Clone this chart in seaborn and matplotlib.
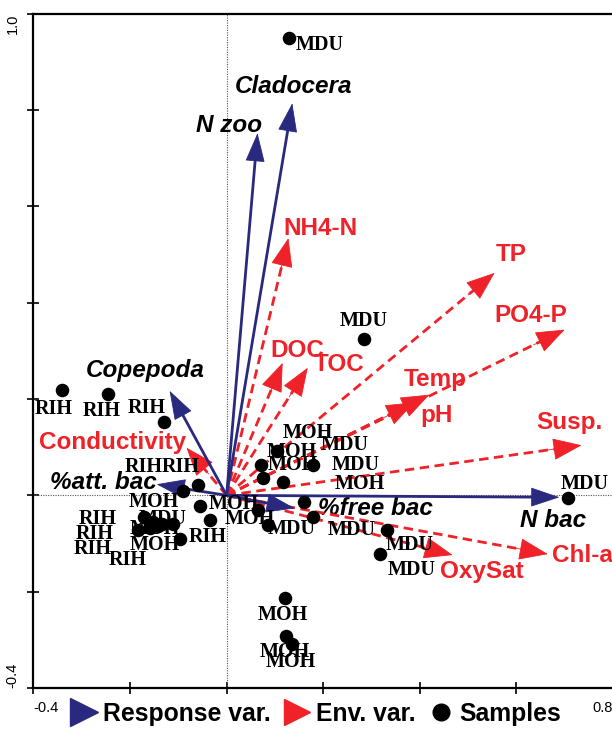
import numpy as np
import pandas as pd
import matplotlib
matplotlib.use("Agg")
import matplotlib.pyplot as plt
import seaborn as sns
from matplotlib.lines import Line2D

# ---------------- data ----------------
resp_names = ["Cladocera", "N zoo", "Copepoda", "%att. bac", "%free bac", "N bac"]
resp_x = [0.136, 0.064, -0.118, -0.145, 0.141, 0.689]
resp_y = [0.814, 0.752, 0.217, 0.023, -0.027, -0.004]
resp_label_x = [0.139, 0.006, -0.168, -0.255, 0.308, 0.675]
resp_label_y = [0.849, 0.768, 0.259, 0.027, -0.027, -0.052]

env_names = ["NH4-N", "TP", "PO4-P", "DOC", "TOC", "Temp", "pH", "Susp.",
             "Conductivity", "OxySat", "Chl-a"]
env_x = [0.128, 0.555, 0.700, 0.116, 0.168, 0.420, 0.389, 0.735, -0.083, 0.468, 0.665]
env_y = [0.534, 0.462, 0.344, 0.275, 0.265, 0.209, 0.193, 0.104, 0.099, -0.124, -0.122]
env_label_x = [0.195, 0.590, 0.629, 0.147, 0.234, 0.431, 0.435, 0.710, -0.236, 0.528, 0.737]
env_label_y = [0.553, 0.501, 0.373, 0.300, 0.271, 0.240, 0.166, 0.151, 0.110, -0.159, -0.124]

sample_names = ["MDU", "MDU", "RIH", "RIH", "RIH", "RIH", "RIH", "MOH",
                "MOH", "MOH", "MDU",
                "RIH", "RIH", "MDU", "MOH", "MOH", "RIH", "RIH", "RIH",
                "MOH", "MOH", "MDU", "MOH", "MDU", "MOH", "MDU",
                "MDU", "MDU", "MDU",
                "MOH", "MOH", "MOH"]
sample_x = [0.130, 0.284, -0.340, -0.246, -0.130, -0.091, -0.060, -0.056,
            -0.035, 0.064, 0.085,
            -0.170, -0.184, -0.153, -0.133, -0.112, -0.097, -0.143, -0.159,
            0.104, 0.072, 0.178, 0.075, 0.116, 0.161, 0.178,
            0.333, 0.317, 0.706,
            0.120, 0.122, 0.135]
sample_y = [0.950, 0.325, 0.219, 0.211, 0.153, 0.010, 0.021, -0.023,
            -0.052, -0.031, -0.062,
            -0.046, -0.072, -0.056, -0.060, -0.060, -0.091, -0.064, -0.068,
            0.093, 0.064, 0.064, 0.037, 0.027, -0.014, -0.046,
            -0.072, -0.122, -0.006,
            -0.213, -0.292, -0.308]
sample_label_x = [0.193, 0.284, -0.358, -0.259, -0.166, -0.172, -0.095, -0.151,
                  0.014, 0.048, 0.135,
                  -0.267, -0.273, -0.133, -0.149, -0.149, -0.039, -0.277, -0.205,
                  0.168, 0.135, 0.244, 0.137, 0.267, 0.275, 0.259,
                  0.379, 0.383, 0.741,
                  0.116, 0.120, 0.132]
sample_label_y = [0.936, 0.362, 0.180, 0.176, 0.182, 0.058, 0.058, -0.014,
                  -0.019, -0.050, -0.070,
                  -0.050, -0.081, -0.050, -0.070, -0.104, -0.087, -0.112, -0.135,
                  0.130, 0.089, 0.104, 0.062, 0.064, 0.023, -0.072,
                  -0.104, -0.155, 0.023,
                  -0.248, -0.325, -0.346]

x_ticks = [-0.4, -0.2, 0.0, 0.2, 0.4, 0.6, 0.8]
x_tick_labels = ["-0.4", "", "", "", "", "", "0.8"]
y_ticks = [-0.4, -0.2, 0.0, 0.2, 0.4, 0.6, 0.8, 1.0]
y_tick_labels = ["-0.4", "", "", "", "", "", "", "1.0"]

legend_labels = ["Response var.", "Env. var.", "Samples"]

# ---------------- style ----------------
sns.set_style("ticks")
plt.rcParams["font.family"] = ["Liberation Sans", "DejaVu Sans"]
plt.rcParams["text.color"] = "black"
plt.rcParams["xtick.color"] = "black"
plt.rcParams["ytick.color"] = "black"

NAVY = "#29297f"
RED = "#ee2228"

fig = plt.figure(figsize=(6.12, 7.29), dpi=100)
ax = fig.add_axes([33.4 / 612, 41 / 729, 579.6 / 612, 674.3 / 729])
ax.set_xlim(-0.4, 0.8)
ax.set_ylim(-0.4, 1.0)

ax.axhline(0, color="#555555", lw=0.8, ls=(0, (1, 1.2)), zorder=1)
ax.axvline(0, color="#555555", lw=0.8, ls=(0, (1, 1.2)), zorder=1)

HEAD = 0.055  # head length in data units (approx.)


def draw_arrow(x, y, color, dashed, hw):
    r = np.hypot(x, y)
    ux, uy = x / r, y / r
    # shaft
    sx, sy = x - ux * HEAD * 0.6, y - uy * HEAD * 0.6
    ax.plot([0, sx], [0, sy], color=color, lw=2.0,
            ls=(0, (3.4, 2.0)) if dashed else "-",
            solid_capstyle="butt", dash_capstyle="butt", zorder=3)
    # solid filled head
    bx, by = x - ux * HEAD * 1.3, y - uy * HEAD * 1.3
    ax.annotate("", xy=(x, y), xytext=(bx, by),
                arrowprops=dict(arrowstyle=f"-|>,head_length=0.95,head_width={hw}",
                                color=color, lw=0.6, shrinkA=0, shrinkB=0,
                                mutation_scale=20),
                zorder=3)


for x, y in zip(env_x, env_y):
    draw_arrow(x, y, RED, True, 0.36)
for name, lx, ly in zip(env_names, env_label_x, env_label_y):
    ax.text(lx, ly, name, color=RED, fontsize=17.5, fontweight="bold",
            ha="center", va="center", zorder=2)

for x, y in zip(resp_x, resp_y):
    draw_arrow(x, y, NAVY, False, 0.32)
for name, lx, ly in zip(resp_names, resp_label_x, resp_label_y):
    ax.text(lx, ly, name, color="black", fontsize=17.5, fontweight="bold",
            fontstyle="italic", ha="center", va="center", zorder=2)

# samples
df = pd.DataFrame({"x": sample_x, "y": sample_y, "site": sample_names})
sns.scatterplot(data=df, x="x", y="y", color="black", s=95, edgecolor="black",
                linewidth=0, ax=ax, zorder=5, legend=False)
for name, lx, ly in zip(sample_names, sample_label_x, sample_label_y):
    ax.text(lx, ly, name, fontsize=14.5, fontweight="bold",
            family=["Liberation Serif", "DejaVu Serif"],
            ha="center", va="center", color="black", zorder=4)

ax.set_xlabel("")
ax.set_ylabel("")

# axes / ticks
ax.set_xticks(x_ticks)
ax.set_xticklabels(x_tick_labels)
ax.set_yticks(y_ticks)
ax.set_yticklabels(y_tick_labels, rotation=90)
ax.tick_params(direction="inout", length=8, width=1.2, labelsize=10.5,
               colors="black")
ax.tick_params(axis="x", pad=5)
ax.tick_params(axis="y", pad=6)
xl = ax.get_xticklabels()
xl[0].set_ha("left")
xl[-1].set_ha("right")
yl = ax.get_yticklabels()
yl[0].set_va("bottom")
yl[-1].set_va("top")
for side in ["left", "top", "bottom"]:
    ax.spines[side].set_linewidth(1.6)
    ax.spines[side].set_color("black")
ax.spines["right"].set_visible(False)

# legend
handles = [
    Line2D([], [], ls="", marker=">", markersize=20, color=NAVY),
    Line2D([], [], ls="", marker=">", markersize=19, color=RED),
    Line2D([], [], ls="", marker="o", markersize=12, color="black"),
]
leg = fig.legend(handles, legend_labels, loc="center", ncol=3,
                 bbox_to_anchor=(0.516, 0.021), frameon=False,
                 prop=dict(size=17.8, weight="bold"), handlelength=1.15,
                 handletextpad=0.2, columnspacing=0.45, borderaxespad=0)
for t in leg.get_texts():
    t.set_color("black")

fig.savefig("out.png", dpi=100)
